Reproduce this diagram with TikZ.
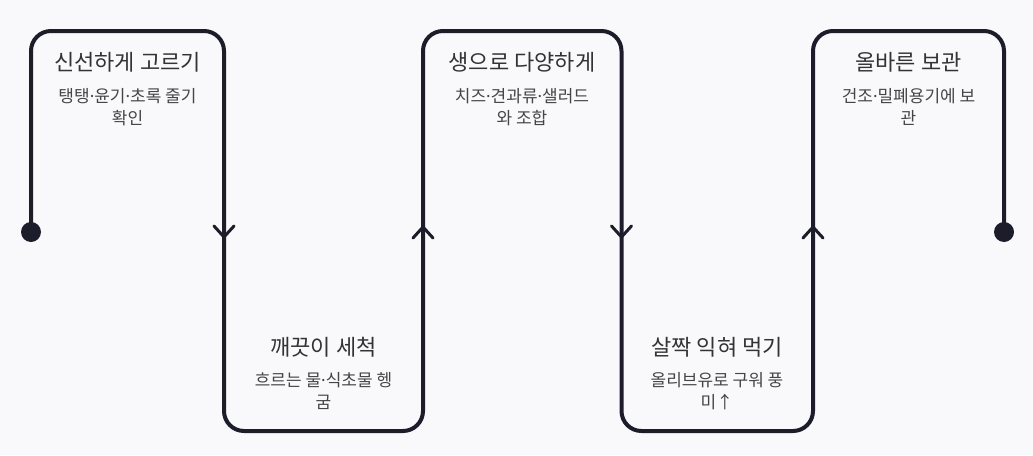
\documentclass[tikz,border=0pt]{standalone}
\usepackage{fontspec}
\setmainfont{Noto Sans CJK KR}
\newfontfamily\dotfont{Noto Sans}
\newcommand{\md}{{\dotfont ·}}
\definecolor{bg}{HTML}{F9F9FB}
\definecolor{ink}{HTML}{1C1C2A}
\definecolor{titlec}{HTML}{333333}
\definecolor{subc}{HTML}{454545}
\tikzset{
  flow/.style={draw=ink, line width=4pt, rounded corners=20pt, line join=round},
  headv/.style={draw=ink, line width=3pt, line cap=round, line join=miter},
  enddot/.style={circle, fill=ink, minimum size=20pt, inner sep=0pt},
  titletext/.style={anchor=base, inner sep=0pt, text=titlec, font=\fontsize{22}{26}\selectfont},
  subtext/.style={anchor=base, inner sep=0pt, text=subc, align=center, font=\fontsize{17}{21.5}\selectfont},
}
\begin{document}
\begin{tikzpicture}[x=1pt,y=-1pt]
\useasboundingbox[fill=bg] (0,0) rectangle (1033,455);
% path corners
\coordinate (s)  at (31,232);
\coordinate (a1) at (31,31);
\coordinate (a2) at (224,31);
\coordinate (b1) at (224,431);
\coordinate (b2) at (423,431);
\coordinate (c1) at (423,31);
\coordinate (c2) at (621.5,31);
\coordinate (d1) at (621.5,431);
\coordinate (d2) at (813,431);
\coordinate (e1) at (813,31);
\coordinate (e2) at (1004,31);
\coordinate (t)  at (1004,232);
\draw[flow] (s) -- (a1) -- (a2) -- (b1) -- (b2) -- (c1) -- (c2) -- (d1) -- (d2) -- (e1) -- (e2) -- (t);
\node[enddot] (sd) at (s) {};
\node[enddot] (td) at (t) {};
% arrowheads
\draw[headv] (214,226) -- (224,237) -- (234,226);
\draw[headv] (413,238) -- (423,227) -- (433,238);
\draw[headv] (611.5,226) -- (621.5,237) -- (631.5,226);
\draw[headv] (803,238) -- (813,227) -- (823,238);
% texts
\node[titletext] (t1) at (127.5,70) {신선하게 고르기};
\node[subtext]   (s1) at (127.5,124) {탱탱\md 윤기\md 초록 줄기\\확인};
\node[titletext] (t2) at (323.5,355.5) {깨끗이 세척};
\node[subtext]   (s2) at (323.5,408) {흐르는 물\md 식초물 헹\\굼};
\node[titletext] (t3) at (522,70) {생으로 다양하게};
\node[subtext]   (s3) at (522,124) {치즈\md 견과류\md 샐러드\\와 조합};
\node[titletext] (t4) at (717,355.5) {살짝 익혀 먹기};
\node[subtext]   (s4) at (717,408) {올리브유로 구워 풍\\미↑};
\node[titletext] (t5) at (908.5,70) {올바른 보관};
\node[subtext]   (s5) at (908.5,124) {건조\md 밀폐용기에 보\\관};
\end{tikzpicture}
\end{document}
